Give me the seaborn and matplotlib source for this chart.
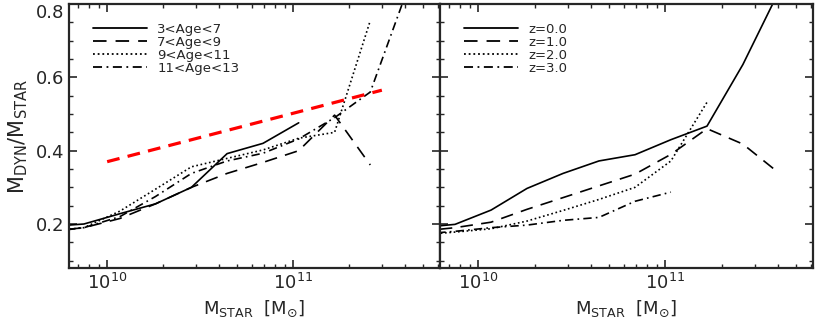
import numpy as np
import pandas as pd
import matplotlib
matplotlib.use('Agg')
import matplotlib.pyplot as plt
import seaborn as sns
from matplotlib.ticker import LogLocator, MultipleLocator, NullFormatter

# log10 stellar mass bin centres
log_mstar = [9.683, 9.875, 10.068, 10.26, 10.453, 10.645, 10.838, 11.03, 11.223, 11.415, 11.608]

# left panel: age bins
age_labels = ['3<Age<7', '7<Age<9', '9<Age<11', '11<Age<13']
age_3_7 = [0.193, 0.200, 0.228, 0.255, 0.300, 0.392, 0.420, 0.476]
age_7_9 = [0.180, 0.190, 0.215, 0.255, 0.300, 0.338, 0.368, 0.400, 0.497, 0.361]
age_9_11 = [0.180, 0.190, 0.235, 0.295, 0.356, 0.379, 0.402, 0.434, 0.450, 0.755]
age_11_13 = [0.178, 0.190, 0.220, 0.275, 0.338, 0.372, 0.393, 0.432, 0.490, 0.560, 0.830]

# red fit line
fit_x = [1.0e10, 3.0e11]
fit_y = [0.370, 0.565]

# right panel: redshifts
z_labels = ['z=0.0', 'z=1.0', 'z=2.0', 'z=3.0']
z_0 = [0.190, 0.199, 0.238, 0.297, 0.338, 0.372, 0.389, 0.430, 0.467, 0.635, 0.835]
z_1 = [0.180, 0.190, 0.205, 0.240, 0.272, 0.304, 0.336, 0.390, 0.460, 0.418, 0.339]
z_2 = [0.170, 0.178, 0.187, 0.208, 0.237, 0.267, 0.300, 0.372, 0.532]
z_3 = [0.172, 0.180, 0.190, 0.197, 0.210, 0.218, 0.262, 0.287]

sns.set_style('ticks')
plt.rcParams['font.family'] = ['DejaVu Sans']
plt.rcParams['mathtext.default'] = 'regular'

dash_styles = [(None, None), (7.5, 5), (1, 1.6), (5, 2.5, 1, 2.5)]

fig = plt.figure(figsize=(8.17, 3.27), dpi=100)
ax1 = fig.add_axes([0.0845, 0.1804, 0.4541, 0.8073])
ax2 = fig.add_axes([0.5386, 0.1804, 0.4565, 0.8073])


def draw(ax, series, labels):
    for vals, lab, dsh in zip(series, labels, dash_styles):
        df = pd.DataFrame({'m': 10 ** np.array(log_mstar[:len(vals)]), 'r': vals})
        sns.lineplot(data=df, x='m', y='r', ax=ax, color='black', lw=1.2,
                     estimator=None, sort=False, label=lab)
        line = ax.lines[-1]
        if dsh[0] is not None:
            line.set_dashes(dsh)
    leg = ax.legend(loc='upper left', frameon=False, fontsize=9.5,
                    handlelength=4.1, labelspacing=0.0, handletextpad=0.75,
                    borderaxespad=0.0, borderpad=0.0,
                    bbox_to_anchor=(0.065, 0.93))
    for h in leg.get_lines():
        h.set_linewidth(1.3)


draw(ax1, [age_3_7, age_7_9, age_9_11, age_11_13], age_labels)
fit_df = pd.DataFrame({'m': fit_x, 'r': fit_y})
sns.lineplot(data=fit_df, x='m', y='r', ax=ax1, color='red', lw=2.3,
             estimator=None, sort=False, legend=False)
ax1.lines[-1].set_dashes((4, 2.6))
draw(ax2, [z_0, z_1, z_2, z_3], z_labels)

for ax in (ax1, ax2):
    ax.set_xscale('log')
    ax.set_xlim(10 ** 9.795, 10 ** 11.79)
    ax.set_ylim(0.08, 0.8)
    ax.xaxis.set_major_locator(LogLocator(base=10, numticks=10))
    ax.xaxis.set_minor_locator(LogLocator(base=10, subs=np.arange(2, 10), numticks=20))
    ax.xaxis.set_minor_formatter(NullFormatter())
    ax.yaxis.set_major_locator(MultipleLocator(0.2))
    ax.yaxis.set_minor_locator(MultipleLocator(0.05))
    ax.tick_params(which='both', direction='in', top=True, right=True, labelsize=13)
    ax.tick_params(which='major', length=6, width=1.2)
    ax.tick_params(which='minor', length=3, width=1.0)
    for s in ax.spines.values():
        s.set_linewidth(1.6)
    ax.set_xlabel(r'$M_{STAR}\ \ [M_{{\odot}}]$', fontsize=13, labelpad=4)

ax1.set_ylabel(r'$M_{DYN}/M_{STAR}$', fontsize=15, labelpad=4)
ax2.set_ylabel('')
ax2.tick_params(labelleft=False)

# keep the top tick label inside the figure
fig.canvas.draw()
for t in ax1.yaxis.get_major_ticks():
    if abs(t.get_loc() - 0.8) < 1e-6:
        t.label1.set_verticalalignment('top')

fig.savefig('out.png', dpi=100)
